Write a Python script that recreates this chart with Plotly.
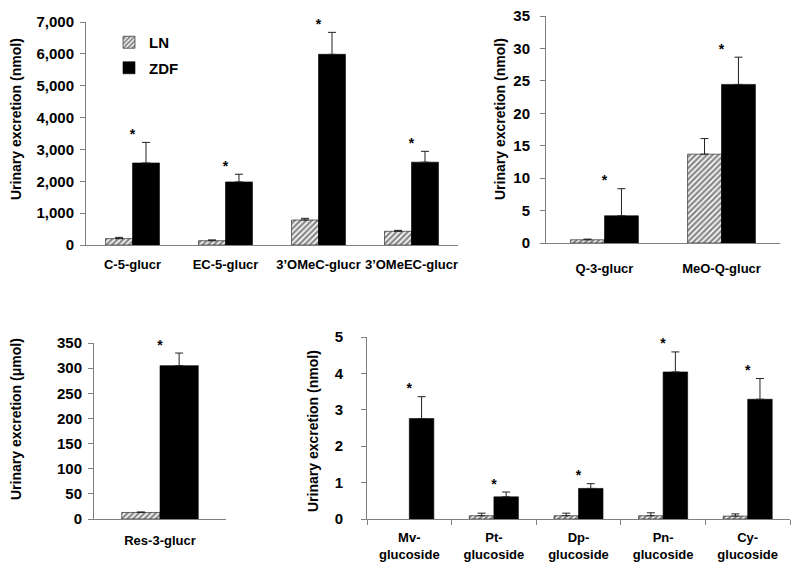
import plotly.graph_objects as go

# ---- data ----
cat1 = ["C-5-glucr", "EC-5-glucr", "3\u2019OMeC-glucr", "3\u2019OMeEC-glucr"]
ln1 = [200, 135, 785, 430]
ln1_err = [40, 25, 52, 30]
zdf1 = [2575, 1980, 5985, 2600]
zdf1_err = [645, 240, 690, 340]

cat2 = ["Q-3-glucr", "MeO-Q-glucr"]
ln2 = [0.5, 13.7]
ln2_err = [0.1, 2.4]
zdf2 = [4.2, 24.45]
zdf2_err = [4.17, 4.2]

cat3 = ["Res-3-glucr"]
ln3 = [13]
ln3_err = [1]
zdf3 = [305]
zdf3_err = [25]

cat4 = ["Mv-<br>glucoside", "Pt-<br>glucoside", "Dp-<br>glucoside", "Pn-<br>glucoside", "Cy-<br>glucoside"]
ln4 = [None, 0.09, 0.09, 0.09, 0.08]
ln4_err = [0, 0.07, 0.07, 0.08, 0.06]
zdf4 = [2.76, 0.61, 0.84, 4.04, 3.29]
zdf4_err = [0.6, 0.13, 0.13, 0.55, 0.57]

panels = [
    (cat1, ln1, ln1_err, zdf1, zdf1_err),
    (cat2, ln2, ln2_err, zdf2, zdf2_err),
    (cat3, ln3, ln3_err, zdf3, zdf3_err),
    (cat4, ln4, ln4_err, zdf4, zdf4_err),
]

FONT = "Liberation Sans, Arial, sans-serif"
AXC = "#808080"
OFF = 8            # page body margin
W, H = 800 - OFF, 572 - OFF


def px_x(p):
    return (p - OFF) / W


def px_y(p):
    return 1 - (p - OFF) / H


fig = go.Figure()
for i, (cats, ln, lne, zd, zde) in enumerate(panels):
    ax = "" if i == 0 else str(i + 1)
    xa, ya = "x" + ax, "y" + ax
    fig.add_trace(go.Bar(
        x=cats, y=ln, name="LN", xaxis=xa, yaxis=ya,
        legendgroup="LN", showlegend=(i == 0),
        marker=dict(color="white",
                    pattern=dict(shape="/", fgcolor="#111", bgcolor="white", size=4, solidity=0.6),
                    line=dict(color="#111", width=0.6)),
        error_y=dict(type="data", symmetric=False, array=lne, arrayminus=[0] * len(lne),
                     color="#222", thickness=1, width=4),
    ))
    fig.add_trace(go.Bar(
        x=cats, y=zd, name="ZDF", xaxis=xa, yaxis=ya,
        legendgroup="ZDF", showlegend=(i == 0),
        marker=dict(color="black", line=dict(color="black", width=0.6)),
        error_y=dict(type="data", symmetric=False, array=zde, arrayminus=[0] * len(zde),
                     color="#222", thickness=1, width=4),
    ))
    fig.add_trace(go.Scatter(
        x=cats, y=[a + b for a, b in zip(zd, zde)], xaxis=xa, yaxis=ya,
        mode="text", text=["*"] * len(cats), textposition="top center",
        textfont=dict(size=14, color="black", family=FONT, weight="bold"),
        showlegend=False, hoverinfo="skip", offsetgroup="ZDF", cliponaxis=False,
    ))

# domains (reference page pixels)
doms = [
    ((86, 458), (245, 22), [0, 7000], 1000, ",d"),
    ((546, 780), (243, 16), [0, 35], 5, "d"),
    ((94, 226), (519, 343), [0, 350], 50, "d"),
    ((367, 790), (519, 337), [0, 5], 1, "d"),
]
xstand = [7, 13, 9, 6]
ystand = [3, 7, 3, 15]
layout = {}
for i, (xd, yd, yr, dt, fmt) in enumerate(doms):
    ax = "" if i == 0 else str(i + 1)
    layout["xaxis" + ax] = dict(
        domain=[px_x(xd[0]), px_x(xd[1])], anchor="y" + ax,
        showline=True, linecolor=AXC, linewidth=1,
        ticks="outside" if i == 3 else "", tickson="boundaries", ticklen=5, tickcolor=AXC,
        showgrid=False, zeroline=False, fixedrange=True, automargin=False, tickangle=0,
        tickfont=dict(size=13, color="black", family=FONT, weight="bold"),
        ticklabelstandoff=xstand[i], ticklabeloverflow="allow",
    )
    layout["yaxis" + ax] = dict(
        domain=[px_y(yd[0]), px_y(yd[1])], anchor="x" + ax, range=yr, dtick=dt, tick0=0,
        tickformat=fmt,
        showline=True, linecolor=AXC, linewidth=1, ticks="outside", ticklen=5, tickcolor=AXC,
        showgrid=False, zeroline=False, automargin=False,
        tickfont=dict(size=15, color="black", family=FONT, weight="bold"),
        ticklabelstandoff=ystand[i], ticklabeloverflow="allow",
    )

fig.update_layout(**layout)

titles = [
    ("Urinary excretion (nmol)", 16, 119),
    ("Urinary excretion (nmol)", 500, 119),
    ("Urinary excretion (\u03bcmol)", 16, 419),
    ("Urinary excretion (nmol)", 313, 431),
]
for t, px, py in titles:
    fig.add_annotation(text=t, x=px_x(px), y=px_y(py), xref="paper", yref="paper",
                       textangle=-90, showarrow=False, xanchor="center", yanchor="middle",
                       font=dict(size=14, color="black", family=FONT, weight="bold"))

fig.update_layout(
    width=W, height=H,
    margin=dict(l=0, r=0, t=0, b=0, autoexpand=False),
    paper_bgcolor="white", plot_bgcolor="white",
    barmode="group", bargap=0.42, bargroupgap=0,
    font=dict(family=FONT, color="black"),
    legend=dict(x=px_x(109), y=px_y(26), xanchor="left", yanchor="top",
                bgcolor="rgba(0,0,0,0)", tracegroupgap=3,
                font=dict(size=15, color="black", family=FONT, weight="bold")),
)

fig.write_html("out.html")
